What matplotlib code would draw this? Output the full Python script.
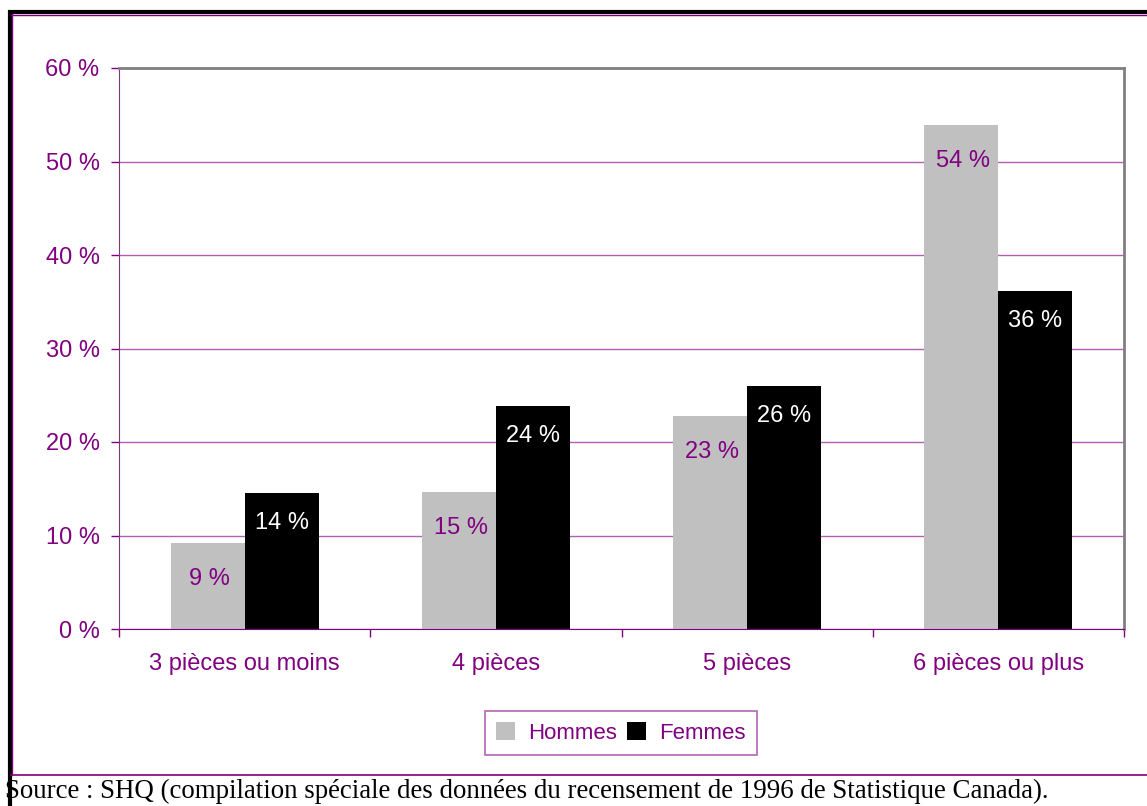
import matplotlib.pyplot as plt
import numpy as np
from matplotlib.lines import Line2D

categories = ["3 pièces ou moins", "4 pièces", "5 pièces", "6 pièces ou plus"]
hommes = [9.2, 14.7, 22.8, 53.9]
femmes = [14.5, 23.9, 26.0, 36.1]
hommes_labels = ["9 %", "15 %", "23 %", "54 %"]
femmes_labels = ["14 %", "24 %", "26 %", "36 %"]
yticks = [0, 10, 20, 30, 40, 50, 60]

purple = "#800080"
W, H = 1147, 806

plt.rcParams['font.family'] = ['Liberation Sans', 'DejaVu Sans']
fig = plt.figure(figsize=(W / 100, H / 100), dpi=100)
ax = fig.add_axes([119 / W, 1 - 629 / H, (1124 - 119) / W, (629 - 68) / H])

x = np.arange(len(categories))
bw = 0.295
b1 = ax.bar(x - bw / 2, hommes, bw, color="#c0c0c0", label="Hommes", zorder=2)
b2 = ax.bar(x + bw / 2, femmes, bw, color="black", label="Femmes", zorder=2)

for rect, lab in zip(b1, hommes_labels):
    ax.annotate(lab, (rect.get_x() + rect.get_width() / 2, rect.get_height()),
                xytext=(2, -36), textcoords="offset pixels", ha="center", va="center",
                color=purple, fontsize=17, zorder=3)
for rect, lab in zip(b2, femmes_labels):
    ax.annotate(lab, (rect.get_x() + rect.get_width() / 2, rect.get_height()),
                xytext=(0, -30), textcoords="offset pixels", ha="center", va="center",
                color="white", fontsize=17, zorder=3)

ax.set_xlim(-0.5, len(categories) - 0.5)
ax.set_ylim(0, 60)
ax.set_yticks(yticks)
ax.set_yticklabels([f"{v} %" for v in yticks])
ax.yaxis.grid(True, color="#b060b0", linewidth=1, zorder=0)
ax.set_axisbelow(True)

ax.set_xticks(x)
ax.set_xticklabels(categories)
ax.set_xticks(np.arange(len(categories) + 1) - 0.5, minor=True)
ax.tick_params(axis="x", which="major", length=0, pad=17, labelsize=17, labelcolor=purple)
ax.tick_params(axis="x", which="minor", length=6, color=purple, width=1)
ax.tick_params(axis="y", length=6, color=purple, width=1, pad=8, labelsize=17, labelcolor=purple)

ax.spines["left"].set_color("#7a3a7a")
ax.spines["bottom"].set_color(purple)
ax.spines["bottom"].set_zorder(4)
for s in ["top", "right"]:
    ax.spines[s].set_color("#808080")
    ax.spines[s].set_linewidth(2)

leg = fig.legend(handles=[b1, b2], loc="center", bbox_to_anchor=(621 / W, 1 - 733 / H),
                 ncol=2, fontsize=16, frameon=True, fancybox=False,
                 handlelength=0.85, handleheight=0.85, handletextpad=0.6,
                 columnspacing=0.45, borderpad=0.5, borderaxespad=0)
leg.get_frame().set_edgecolor("#a040a0")
leg.get_frame().set_linewidth(1.2)
for t in leg.get_texts():
    t.set_color(purple)

# outer frame
fig.add_artist(Line2D([8 / W, 1], [1 - 11.5 / H] * 2, color="black", linewidth=3,
                      solid_capstyle="butt"))
fig.add_artist(Line2D([9.5 / W] * 2, [0, 1 - 10 / H], color="black", linewidth=3,
                      solid_capstyle="butt"))
fig.add_artist(Line2D([11 / W, 1], [1 - 14.5 / H] * 2, color=purple, linewidth=1))
fig.add_artist(Line2D([12 / W] * 2, [1 - 14 / H, 1 - 775 / H], color=purple, linewidth=1))
fig.add_artist(Line2D([11 / W, 1], [1 - 775 / H] * 2, color=purple, linewidth=1.2))

fig.text(5 / W, 1 - 791 / H,
         "Source : SHQ (compilation spéciale des données du recensement de 1996 de Statistique Canada).",
         family=["Liberation Serif", "DejaVu Serif"], fontsize=19.4, va="center", ha="left")

fig.savefig("out.png", dpi=100)
